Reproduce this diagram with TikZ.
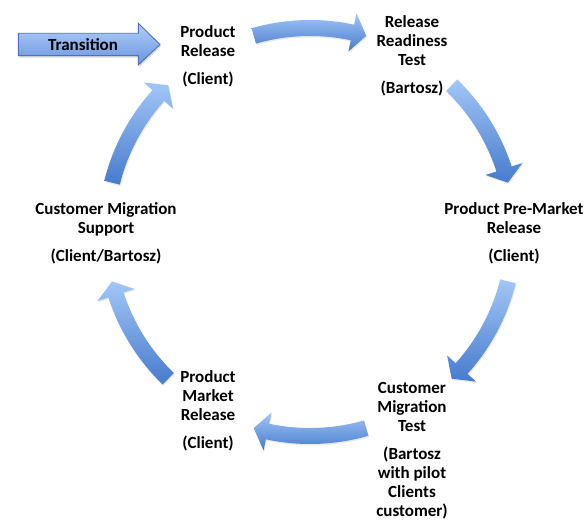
\documentclass[tikz,border=0pt]{standalone}
\usepackage{fontspec}
\setmainfont{Carlito}
\usetikzlibrary{shadows}
\definecolor{arlight}{RGB}{163,198,246}
\definecolor{ardark}{RGB}{70,123,205}
\definecolor{trborder}{RGB}{70,115,190}
\definecolor{trlight}{RGB}{178,206,245}
\definecolor{trdark}{RGB}{104,148,224}
\tikzset{
  lbl/.style={font=\fontsize{17}{19}\selectfont\bfseries, align=center, anchor=north, inner sep=0pt},
  cyc/.style={top color=arlight, bottom color=ardark, draw=none,
    drop shadow={opacity=0.08, shadow xshift=0.8pt, shadow yshift=-1.5pt, fill=black}},
  transarrow/.style={top color=trlight, bottom color=trdark, draw=trborder, line width=0.9pt, line join=miter,
    drop shadow={opacity=0.15, shadow xshift=1pt, shadow yshift=-2pt, fill=black}},
}
\newcommand{\cycarrow}[1]{%
  \path[cyc] ({#1+16}:212) arc[start angle={#1+16}, end angle={#1-12}, radius=212]
    -- ({#1-12}:223.5) -- ({#1-16}:204) -- ({#1-12}:184.5) -- ({#1-12}:196)
    arc[start angle={#1-12}, end angle={#1+16}, radius=196] -- cycle;}
\begin{document}
\begin{tikzpicture}[x=1pt, y=1pt]
\useasboundingbox (0,0) rectangle (587,520);
\fill[white] (0,0) rectangle (587,520);

% Transition block arrow
\path[transarrow] (18.3,486.7) -- (138.3,486.7) -- (138.3,496.7) -- (160,475.5)
  -- (138.3,455) -- (138.3,464.3) -- (18.3,464.3) -- cycle;
\node[font=\fontsize{17}{19}\selectfont\bfseries, inner sep=0pt] (trans) at (83,475.5) {Transition};

% cycle arrows
\begin{scope}[shift={(310,288)}]
  \cycarrow{90}
  \cycarrow{30}
  \cycarrow{-30}
  \cycarrow{-90}
  \cycarrow{-150}
  \cycarrow{150}
\end{scope}

% labels
\node[lbl] (prodrel) at (208,495) {Product\\Release\\[9pt](Client)};
\node[lbl] (readiness) at (412,505) {Release\\Readiness\\Test\\[9pt](Bartosz)};
\node[lbl] (premarket) at (514,318) {Product Pre-Market\\Release\\[9pt](Client)};
\node[lbl] (migtest) at (412,138) {Customer\\Migration\\Test\\[9pt](Bartosz\\with pilot\\Clients\\customer)};
\node[lbl] (market) at (208,150) {Product\\Market\\Release\\[9pt](Client)};
\node[lbl] (support) at (106,318) {Customer Migration\\Support\\[9pt](Client/Bartosz)};
\end{tikzpicture}
\end{document}
